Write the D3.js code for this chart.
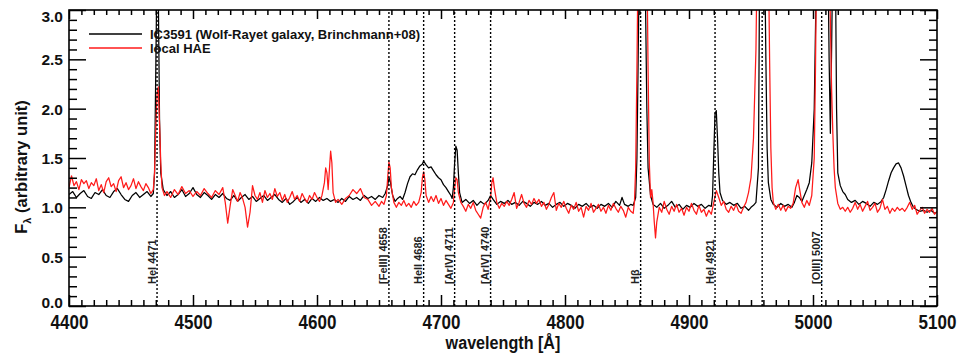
<!DOCTYPE html>
<html><head><meta charset="utf-8">
<script src="https://cdn.jsdelivr.net/npm/d3@7"></script>
<style>body{margin:0;background:#fff}svg{display:block}</style>
</head><body><svg id="c" width="971" height="354"></svg>
<script>
const xTicks=[4400,4500,4600,4700,4800,4900,5000,5100];
const yTicks=[0,0.5,1,1.5,2,2.5,3];
const yTickLabels=["0.0","0.5","1.0","1.5","2.0","2.5","3.0"];
const lineWaves=[4471,4658,4686,4711,4740,4861,4921,4959,5007];
const lineLabels=["HeI 4471","[FeIII] 4658","HeII 4686","[ArIV] 4711","[ArIV] 4740","Hβ","HeI 4921","","[OIII] 5007"];
const seriesNames=["IC3591 (Wolf-Rayet galaxy, Brinchmann+08)","local HAE"];
const seriesColors=["#000000","#ff1a1a"];

const ic3591=[[4400,1.13],[4403,1.16],[4406,1.10],[4409,1.14],[4412,1.17],[4415,1.11],[4418,1.09],[4421,1.15],[4424,1.13],[4427,1.18],[4430,1.12],[4433,1.10],[4436,1.16],[4439,1.19],[4442,1.13],[4445,1.08],[4448,1.06],[4451,1.12],[4454,1.15],[4457,1.10],[4460,1.13],[4463,1.16],[4466,1.11],[4468,1.14],[4469,1.35],[4470,2.4],[4471,3.5],[4472,3.2],[4473,1.9],[4474,1.35],[4476,1.18],[4479,1.12],[4482,1.16],[4485,1.10],[4488,1.13],[4491,1.18],[4494,1.11],[4497,1.14],[4500,1.20],[4503,1.13],[4506,1.10],[4509,1.15],[4512,1.12],[4515,1.08],[4518,1.13],[4521,1.10],[4524,1.14],[4527,1.09],[4530,1.07],[4533,1.12],[4536,1.06],[4539,1.10],[4542,1.13],[4545,1.08],[4548,1.11],[4551,1.06],[4554,1.09],[4557,1.12],[4560,1.07],[4563,1.10],[4566,1.13],[4569,1.08],[4572,1.05],[4575,1.09],[4578,1.03],[4581,1.06],[4584,1.10],[4587,1.05],[4590,1.08],[4593,1.04],[4596,1.09],[4599,1.06],[4602,1.10],[4605,1.07],[4608,1.09],[4611,1.06],[4614,1.08],[4617,1.05],[4620,1.09],[4623,1.06],[4626,1.11],[4629,1.08],[4632,1.10],[4635,1.07],[4638,1.12],[4641,1.09],[4644,1.11],[4647,1.08],[4650,1.12],[4653,1.10],[4655,1.14],[4657,1.22],[4658,1.30],[4659,1.27],[4661,1.12],[4663,1.06],[4665,1.09],[4667,1.11],[4669,1.08],[4671,1.15],[4673,1.24],[4675,1.31],[4677,1.34],[4679,1.33],[4681,1.38],[4683,1.42],[4685,1.44],[4686,1.47],[4688,1.43],[4690,1.40],[4692,1.41],[4694,1.37],[4696,1.33],[4698,1.30],[4700,1.28],[4702,1.23],[4704,1.20],[4706,1.16],[4708,1.12],[4709,1.09],[4710,1.20],[4711,1.45],[4712,1.62],[4713,1.58],[4714,1.35],[4715,1.15],[4717,1.05],[4720,1.08],[4723,1.04],[4726,1.07],[4729,1.02],[4732,1.06],[4735,1.03],[4738,1.07],[4740,1.12],[4742,1.08],[4745,1.03],[4748,1.06],[4751,1.04],[4754,1.07],[4757,1.03],[4760,1.05],[4763,1.02],[4766,1.06],[4769,1.04],[4772,1.01],[4775,1.05],[4778,1.03],[4781,1.06],[4784,1.02],[4787,1.04],[4790,1.00],[4793,1.03],[4796,1.05],[4799,1.01],[4802,1.04],[4805,1.02],[4808,0.99],[4811,1.03],[4814,1.01],[4817,1.04],[4820,1.00],[4823,1.02],[4826,0.99],[4829,1.03],[4832,1.01],[4835,1.04],[4838,1.00],[4841,1.06],[4844,1.02],[4846,1.10],[4848,1.03],[4851,1.01],[4853,1.03],[4855,1.02],[4857,1.10],[4858,1.5],[4859,2.5],[4860,3.6],[4864,3.6],[4865,3.0],[4866,2.0],[4867,1.4],[4869,1.12],[4871,1.03],[4874,1.00],[4877,1.04],[4880,0.99],[4883,1.02],[4886,1.06],[4889,1.00],[4892,1.03],[4895,0.98],[4898,1.02],[4901,1.00],[4904,1.04],[4907,1.01],[4910,1.03],[4913,0.99],[4916,1.02],[4918,1.01],[4919,1.12],[4920,1.55],[4921,1.95],[4922,1.98],[4923,1.70],[4924,1.35],[4925,1.15],[4927,1.07],[4930,1.03],[4933,1.05],[4936,1.02],[4939,1.04],[4942,0.99],[4945,1.01],[4948,0.97],[4950,1.00],[4952,1.02],[4954,1.05],[4956,1.4],[4957,3.6],[4961,3.6],[4962,2.5],[4963,1.6],[4964,1.25],[4966,1.08],[4968,1.03],[4971,1.00],[4974,1.04],[4977,1.01],[4980,1.03],[4983,1.00],[4985,1.05],[4987,1.12],[4989,1.10],[4991,1.06],[4993,1.12],[4995,1.18],[4997,1.25],[4999,1.45],[5001,2.0],[5003,3.6],[5012,3.6],[5013,2.5],[5014,1.75],[5015,2.6],[5016,3.6],[5018,3.6],[5019,2.0],[5020,1.35],[5022,1.22],[5024,1.16],[5026,1.13],[5028,1.08],[5031,1.05],[5034,1.07],[5037,1.03],[5040,1.06],[5043,1.04],[5046,1.01],[5049,1.05],[5052,1.03],[5055,1.06],[5057,1.10],[5059,1.18],[5061,1.27],[5063,1.35],[5065,1.40],[5067,1.44],[5069,1.45],[5071,1.40],[5073,1.32],[5075,1.22],[5077,1.12],[5079,1.05],[5081,1.00],[5083,0.98],[5086,0.96],[5089,0.97],[5092,0.95],[5095,0.97],[5098,0.94],[5100,0.95]];

const localHAE=[[4400,1.20],[4402,1.32],[4404,1.22],[4406,1.26],[4408,1.18],[4410,1.28],[4412,1.24],[4414,1.27],[4416,1.19],[4418,1.25],[4420,1.22],[4422,1.29],[4424,1.17],[4426,1.23],[4428,1.15],[4430,1.26],[4432,1.30],[4434,1.21],[4436,1.24],[4438,1.16],[4440,1.27],[4442,1.31],[4444,1.20],[4446,1.25],[4448,1.18],[4450,1.22],[4452,1.29],[4454,1.19],[4456,1.26],[4458,1.21],[4460,1.17],[4462,1.24],[4464,1.20],[4466,1.14],[4468,1.18],[4469,1.35],[4470,1.8],[4471,2.15],[4472,2.22],[4473,1.85],[4474,1.45],[4475,1.20],[4477,1.12],[4479,1.16],[4482,1.10],[4485,1.18],[4488,1.13],[4491,1.21],[4494,1.14],[4497,1.17],[4500,1.11],[4503,1.16],[4506,1.12],[4509,1.19],[4512,1.14],[4515,1.10],[4518,1.17],[4521,1.13],[4524,1.20],[4526,1.05],[4528,0.84],[4530,1.02],[4532,1.18],[4534,1.12],[4536,1.06],[4538,1.15],[4540,1.09],[4542,1.00],[4544,0.80],[4546,0.95],[4548,1.22],[4550,1.12],[4552,1.08],[4554,1.15],[4556,1.05],[4558,1.17],[4560,1.10],[4562,1.14],[4564,1.08],[4566,1.19],[4568,1.11],[4570,1.15],[4572,1.07],[4574,1.13],[4576,1.05],[4578,1.10],[4580,1.16],[4582,1.08],[4584,1.12],[4586,1.06],[4588,1.14],[4590,1.09],[4592,1.05],[4594,1.12],[4596,1.08],[4598,1.15],[4600,1.10],[4602,1.06],[4604,1.12],[4606,1.25],[4607,1.40],[4608,1.35],[4609,1.18],[4610,1.38],[4611,1.57],[4612,1.45],[4613,1.15],[4615,1.05],[4617,1.08],[4620,1.03],[4623,1.09],[4626,1.12],[4629,1.18],[4632,1.14],[4635,1.19],[4638,1.10],[4641,1.08],[4644,1.02],[4647,1.06],[4650,1.01],[4652,1.06],[4654,1.03],[4656,1.12],[4657,1.30],[4658,1.46],[4659,1.40],[4660,1.20],[4662,1.05],[4664,1.00],[4666,1.05],[4668,1.02],[4670,1.07],[4672,1.01],[4674,1.04],[4676,1.00],[4678,1.06],[4680,1.02],[4682,1.05],[4684,1.15],[4685,1.30],[4686,1.36],[4687,1.28],[4688,1.12],[4690,1.05],[4692,1.11],[4694,1.06],[4696,1.12],[4698,1.04],[4700,1.09],[4702,1.02],[4704,1.07],[4706,1.03],[4708,0.99],[4710,1.05],[4711,1.20],[4712,1.30],[4713,1.28],[4714,1.15],[4716,1.05],[4718,1.01],[4720,0.96],[4722,1.03],[4724,0.99],[4726,1.05],[4728,0.97],[4730,0.93],[4732,0.89],[4734,1.00],[4736,1.05],[4738,0.98],[4740,1.10],[4741,1.25],[4742,1.30],[4743,1.20],[4745,1.05],[4747,0.99],[4749,1.04],[4751,1.01],[4753,1.06],[4755,1.02],[4757,1.08],[4759,1.15],[4761,0.99],[4763,1.05],[4765,1.13],[4767,1.04],[4769,1.00],[4771,1.07],[4773,1.03],[4775,1.09],[4777,1.04],[4779,1.08],[4781,1.01],[4783,1.05],[4785,0.98],[4787,1.03],[4789,1.10],[4791,1.15],[4793,0.97],[4795,1.04],[4797,1.00],[4799,1.06],[4801,0.99],[4803,0.94],[4805,1.02],[4807,0.98],[4809,1.05],[4811,0.96],[4813,1.00],[4815,0.90],[4817,1.01],[4819,0.97],[4821,1.04],[4823,0.95],[4825,0.99],[4827,1.03],[4829,0.96],[4831,1.00],[4833,0.94],[4835,1.02],[4837,0.97],[4839,1.04],[4841,0.99],[4843,0.95],[4845,1.01],[4847,0.97],[4849,0.90],[4851,1.00],[4853,0.96],[4855,0.94],[4856,1.05],[4857,1.4],[4858,2.4],[4859,3.6],[4866,3.6],[4867,2.4],[4868,1.45],[4869,1.10],[4870,1.18],[4871,1.05],[4872,0.85],[4873,0.69],[4874,0.85],[4876,1.00],[4878,0.95],[4880,1.06],[4882,0.98],[4884,0.93],[4886,1.01],[4888,0.96],[4890,1.03],[4892,0.95],[4894,0.99],[4896,0.92],[4898,1.00],[4900,0.96],[4902,1.04],[4904,0.97],[4906,0.93],[4908,1.02],[4910,0.95],[4912,0.98],[4914,0.91],[4916,0.97],[4918,0.93],[4920,1.05],[4922,1.17],[4924,1.10],[4926,1.02],[4928,1.06],[4930,0.98],[4932,0.95],[4934,1.01],[4936,0.97],[4938,1.03],[4940,0.96],[4942,0.94],[4944,1.00],[4946,1.05],[4948,1.15],[4950,1.30],[4952,1.7],[4954,2.6],[4955,3.6],[4964,3.6],[4965,2.5],[4966,1.6],[4967,1.2],[4968,1.05],[4970,0.98],[4972,1.03],[4974,0.97],[4976,1.02],[4978,0.96],[4980,1.01],[4982,0.99],[4984,1.04],[4986,1.20],[4988,1.28],[4989,1.20],[4991,1.05],[4993,1.00],[4995,1.07],[4997,1.02],[4999,1.12],[5001,1.5],[5002,2.4],[5003,3.6],[5013,3.6],[5015,2.2],[5016,1.75],[5017,1.40],[5018,1.20],[5020,1.04],[5022,0.98],[5024,1.00],[5026,0.96],[5028,1.00],[5030,0.95],[5032,0.99],[5034,1.05],[5036,0.98],[5038,1.03],[5040,0.96],[5042,1.01],[5044,1.06],[5046,0.97],[5048,1.00],[5050,1.04],[5052,0.95],[5054,0.99],[5056,1.08],[5058,0.98],[5060,1.01],[5062,0.94],[5064,0.99],[5066,0.96],[5068,1.00],[5070,0.97],[5072,0.99],[5074,0.96],[5076,1.00],[5078,1.05],[5080,0.98],[5082,1.02],[5084,0.93],[5086,0.97],[5088,1.00],[5090,0.94],[5092,0.98],[5094,0.95],[5096,0.99],[5098,0.93],[5100,0.96]];

const W=971,H=354;
const pL=69,pR=937,pT=10,pB=306;
const svg=d3.select("#c");
svg.append("rect").attr("width",W).attr("height",H).attr("fill","#fff");
const x=d3.scaleLinear().domain([4400,5100]).range([pL,pR]);
const y=d3.scaleLinear().domain([0,3]).range([pB,pT]);
const FONT="'Liberation Sans', Arial, Helvetica, sans-serif";

svg.append("defs").append("clipPath").attr("id","clip").append("rect")
  .attr("x",pL).attr("y",pT).attr("width",pR-pL).attr("height",pB-pT);

// spectra
const line=d3.line().x(d=>x(d[0])).y(d=>y(d[1]));
const gSpec=svg.append("g").attr("clip-path","url(#clip)");
[ic3591,localHAE].forEach((s,i)=>{
  gSpec.append("path").datum(s).attr("d",line).attr("fill","none")
    .attr("stroke",seriesColors[i]).attr("stroke-width",1.25).attr("stroke-linejoin","round");
});

// dotted line markers
const gL=svg.append("g");
lineWaves.forEach((w,i)=>{
  gL.append("line").attr("x1",x(w)).attr("x2",x(w)).attr("y1",pB).attr("y2",pT)
    .attr("stroke","#000").attr("stroke-width",1.4).attr("stroke-dasharray","2,2");
  if(lineLabels[i]){
    gL.append("text").attr("transform",`translate(${x(w)-1.5},284) rotate(-90)`)
      .attr("font-family",FONT).attr("font-size",11).attr("font-weight","bold").attr("fill","#222")
      .attr("text-anchor","start").text(lineLabels[i]);
  }
});

// axes
const minorX=x.ticks(70).filter(v=>!xTicks.includes(v));
const minorY=y.ticks(30).filter(v=>!yTicks.some(t=>Math.abs(t-v)<1e-6));
function styleAxis(g){g.select(".domain").remove();g.selectAll("line").attr("stroke","#000").attr("stroke-width",1.5);}

const gxb=svg.append("g").attr("transform",`translate(0,${pB})`)
  .call(d3.axisBottom(x).tickValues(xTicks).tickSize(-11).tickSizeOuter(0).tickFormat(d3.format("d")));
styleAxis(gxb);
gxb.selectAll("text").attr("y",16).attr("dy","0.36em")
  .attr("font-family",FONT).attr("font-weight","bold").attr("font-size",20).attr("fill","#111")
  .attr("transform","scale(0.85,1)");
svg.append("g").attr("transform",`translate(0,${pB})`)
  .call(d3.axisBottom(x).tickValues(minorX).tickSize(-6).tickFormat("")).call(styleAxis);
svg.append("g").attr("transform",`translate(0,${pT})`)
  .call(d3.axisTop(x).tickValues(xTicks).tickSize(-9).tickFormat("")).call(styleAxis);
svg.append("g").attr("transform",`translate(0,${pT})`)
  .call(d3.axisTop(x).tickValues(minorX).tickSize(-5).tickFormat("")).call(styleAxis);

const gyl=svg.append("g").attr("transform",`translate(${pL},0)`)
  .call(d3.axisLeft(y).tickValues(yTicks).tickSize(-17).tickSizeOuter(0).tickFormat((d,i)=>yTickLabels[i]));
styleAxis(gyl);
gyl.selectAll("text").attr("x",-6).attr("dy","0.36em")
  .attr("font-family",FONT).attr("font-weight","bold").attr("font-size",15.5).attr("fill","#111");
gyl.selectAll(".tick").filter(d=>d===3).select("text").attr("dy","0.75em");
gyl.selectAll(".tick").filter(d=>d===0).select("text").attr("dy","0.1em");
svg.append("g").attr("transform",`translate(${pL},0)`)
  .call(d3.axisLeft(y).tickValues(minorY).tickSize(-8).tickFormat("")).call(styleAxis);
svg.append("g").attr("transform",`translate(${pR},0)`)
  .call(d3.axisRight(y).tickValues(yTicks).tickSize(-17).tickFormat("")).call(styleAxis);
svg.append("g").attr("transform",`translate(${pR},0)`)
  .call(d3.axisRight(y).tickValues(minorY).tickSize(-8).tickFormat("")).call(styleAxis);

// frame
svg.append("rect").attr("x",pL).attr("y",pT).attr("width",pR-pL).attr("height",pB-pT)
  .attr("fill","none").attr("stroke","#000").attr("stroke-width",1.6);

// axis titles
svg.append("text").attr("transform",`translate(${(pL+pR)/2},349) scale(0.85,1)`)
  .attr("text-anchor","middle").attr("font-family",FONT).attr("font-weight","bold")
  .attr("font-size",19).attr("fill","#111").text("wavelength [Å]");
const yt=svg.append("text").attr("transform","translate(27,167) rotate(-90)")
  .attr("text-anchor","middle").attr("font-family",FONT).attr("font-weight","bold")
  .attr("font-size",16.5).attr("fill","#111");
yt.append("tspan").text("F");
yt.append("tspan").attr("font-size",11).attr("dy",4).text("λ");
yt.append("tspan").attr("dy",-4).text(" (arbitrary unit)");

// legend
seriesNames.forEach((n,i)=>{
  const ly=34+i*14;
  svg.append("line").attr("x1",89).attr("x2",142).attr("y1",ly).attr("y2",ly)
    .attr("stroke",seriesColors[i]).attr("stroke-width",1.5);
  svg.append("text").attr("x",150).attr("y",ly+4.5).attr("font-family",FONT)
    .attr("font-weight","bold").attr("font-size",13).attr("fill","#111").text(n);
});
</script></body></html>
